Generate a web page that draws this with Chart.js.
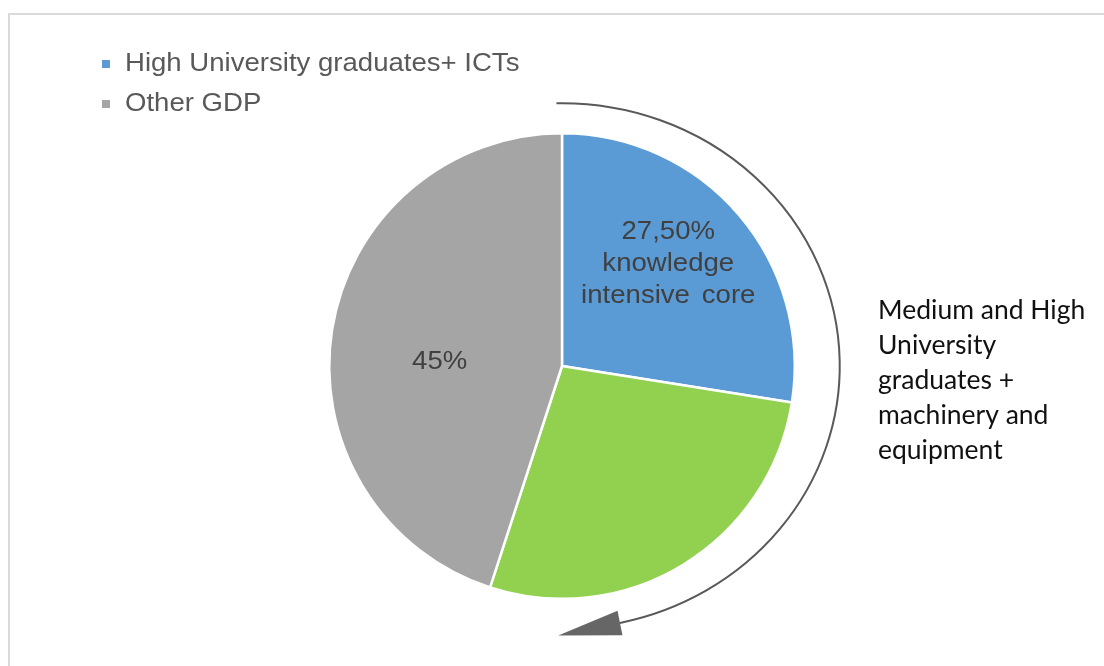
<!DOCTYPE html>
<html>
<head>
<meta charset="utf-8">
<script src="https://cdn.jsdelivr.net/npm/chart.js@4.4.0/dist/chart.umd.min.js"></script>
<style>
  html, body { margin: 0; padding: 0; background: #fff; overflow: hidden; }
  #frame { position: absolute; left: 8px; top: 13px; width: 1200px; height: 800px; border: 2px solid #dadada; }
  #wrap { position: absolute; left: 0; top: 0; width: 1104px; height: 666px; }
</style>
</head>
<body>
<div id="frame"></div>
<div id="wrap"><canvas id="c" width="1104" height="666"></canvas></div>
<script>
const categories = ["High University graduates+ ICTs", "Medium University graduates + machinery and equipment", "Other GDP"];
const values = [27.5, 27.5, 45];
const sliceLabels = [["27,50%", "knowledge", "intensive core"], null, ["45%"]];
const legendShown = [true, false, true];
const colors = ["#5B9BD5", "#92D050", "#A5A5A5"];
const braceNote = ["Medium and High", "University", "graduates +", "machinery and", "equipment"];

function stretchedText(ctx, t, x, y, sx) {
  ctx.save();
  ctx.translate(x, y);
  ctx.scale(sx, 1);
  ctx.fillText(t, 0, 0);
  ctx.restore();
}

const overlay = {
  id: 'overlay',
  afterDatasetsDraw(chart) {
    const ctx = chart.ctx;
    const meta = chart.getDatasetMeta(0);
    const arc0 = meta.data[0];
    const cx = arc0.x, cy = arc0.y, r = arc0.outerRadius;

    // slice labels
    ctx.save();
    ctx.fillStyle = '#404040';
    ctx.font = '26px "Liberation Sans", Arial, sans-serif';
    ctx.textAlign = 'center';
    ctx.textBaseline = 'middle';
    ctx.wordSpacing = '4px';
    const factor = [0.634, 0, 0.526];
    const shift = [-0.06, 0, -0.12];
    meta.data.forEach((a, i) => {
      const lines = sliceLabels[i];
      if (!lines) return;
      const mid = (a.startAngle + a.endAngle) / 2 + shift[i];
      const d = r * factor[i];
      const x = cx + Math.cos(mid) * d;
      const y = cy + Math.sin(mid) * d;
      const lh = 32;
      lines.forEach((t, k) => {
        stretchedText(ctx, t, x, y + (k - (lines.length - 1) / 2) * lh, 1.06);
      });
    });
    ctx.restore();

    // legend
    ctx.save();
    ctx.font = '26px "Liberation Sans", Arial, sans-serif';
    ctx.textBaseline = 'middle';
    let ly = 64;
    categories.forEach((c, i) => {
      if (!legendShown[i]) return;
      ctx.fillStyle = colors[i];
      ctx.fillRect(102, ly - 4, 8, 8);
      ctx.fillStyle = '#595959';
      stretchedText(ctx, c, 125, ly, 1.06);
      ly += 40;
    });
    ctx.restore();

    // arrow arc
    ctx.save();
    const rx = r + 45, ry = r + 30;
    const a0 = -Math.PI / 2 - 0.02;
    const a1 = Math.PI / 2 - Math.asin(58 / rx);
    ctx.strokeStyle = '#595959';
    ctx.lineWidth = 2;
    ctx.beginPath();
    ctx.ellipse(cx, cy, rx, ry, 0, a0, a1, false);
    ctx.stroke();
    const ex = cx + rx * Math.cos(a1), ey = cy + ry * Math.sin(a1);
    let tx = -rx * Math.sin(a1), ty = ry * Math.cos(a1);
    const tl = Math.hypot(tx, ty); tx /= tl; ty /= tl;
    const nx = -ty, ny = tx;
    ctx.fillStyle = '#666666';
    ctx.beginPath();
    ctx.moveTo(ex + nx * 12.5, ey + ny * 12.5);
    ctx.lineTo(ex - nx * 12.5, ey - ny * 12.5);
    ctx.lineTo(ex + tx * 63, ey + ty * 63);
    ctx.closePath();
    ctx.fill();
    ctx.restore();

    // side note
    ctx.save();
    ctx.fillStyle = '#111111';
    ctx.font = '26.5px Lato, "Open Sans", sans-serif';
    ctx.textBaseline = 'middle';
    braceNote.forEach((t, k) => ctx.fillText(t, 878, 310 + k * 35.2));
    ctx.restore();
  }
};

new Chart(document.getElementById('c'), {
  type: 'pie',
  data: {
    labels: categories,
    datasets: [{
      data: values,
      backgroundColor: colors,
      borderColor: '#ffffff',
      borderWidth: 2.5
    }]
  },
  options: {
    responsive: false,
    animation: false,
    layout: { padding: { top: 132, bottom: 66, left: 328, right: 308 } },
    plugins: {
      legend: { display: false },
      tooltip: { enabled: false }
    }
  },
  plugins: [overlay]
});
</script>
</body>
</html>
